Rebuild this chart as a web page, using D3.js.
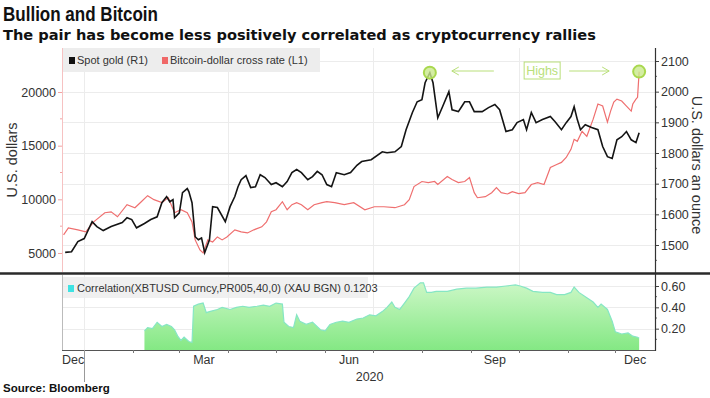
<!DOCTYPE html>
<meta charset="utf-8">
<style>
body { margin: 0; background: #fff; }
text { font-family: "Liberation Sans", Arial, sans-serif; fill: #333; }
.title { font: bold 20px "Liberation Sans", sans-serif; fill: #111; }
.subtitle { font: bold 14.6px "DejaVu Sans", sans-serif; fill: #111; }
.source { font: bold 11.5px "Liberation Sans", sans-serif; fill: #111; }
.tick text { font-size: 12.5px; fill: #333; }
.axis-title { font-size: 14.5px; fill: #333; }
.legend text { font-size: 11px; fill: #333; }
.grid line { stroke: #ececec; stroke-width: 1; }
</style>
<svg width="710" height="398"></svg>
<script src="https://d3js.org/d3.v7.min.js"></script>
<script>

// spot gold, USD per ounce (right axis)
var gold = [
  ["2019-12-20", 1476], ["2019-12-24", 1478], ["2019-12-28", 1511], ["2020-01-01", 1521],
  ["2020-01-06", 1576], ["2020-01-09", 1560], ["2020-01-13", 1547], ["2020-01-18", 1560],
  ["2020-01-25", 1573], ["2020-01-28", 1589], ["2020-01-31", 1583], ["2020-02-03", 1556],
  ["2020-02-08", 1570], ["2020-02-12", 1583], ["2020-02-16", 1592], ["2020-02-19", 1638],
  ["2020-02-22", 1658], ["2020-02-24", 1641], ["2020-02-26", 1648], ["2020-02-27", 1589],
  ["2020-03-01", 1605], ["2020-03-03", 1671], ["2020-03-06", 1684], ["2020-03-07", 1674],
  ["2020-03-09", 1638], ["2020-03-11", 1527], ["2020-03-13", 1517], ["2020-03-15", 1523],
  ["2020-03-17", 1475], ["2020-03-20", 1517], ["2020-03-22", 1625], ["2020-03-25", 1622],
  ["2020-03-30", 1576], ["2020-04-02", 1625], ["2020-04-05", 1658], ["2020-04-07", 1690],
  ["2020-04-09", 1713], ["2020-04-12", 1726], ["2020-04-15", 1687], ["2020-04-18", 1690],
  ["2020-04-21", 1729], ["2020-04-24", 1720], ["2020-04-28", 1697], ["2020-05-01", 1703],
  ["2020-05-05", 1690], ["2020-05-08", 1707], ["2020-05-11", 1736], ["2020-05-14", 1746],
  ["2020-05-17", 1736], ["2020-05-21", 1713], ["2020-05-24", 1723], ["2020-05-27", 1740],
  ["2020-05-30", 1729], ["2020-06-02", 1697], ["2020-06-05", 1690], ["2020-06-08", 1736],
  ["2020-06-13", 1729], ["2020-06-17", 1736], ["2020-06-21", 1760], ["2020-06-24", 1772],
  ["2020-06-30", 1778], ["2020-07-07", 1804], ["2020-07-10", 1801], ["2020-07-15", 1804],
  ["2020-07-19", 1821], ["2020-07-22", 1876], ["2020-07-26", 1932], ["2020-07-29", 1967],
  ["2020-08-01", 1974], ["2020-08-03", 2029], ["2020-08-06", 2062], ["2020-08-08", 2029],
  ["2020-08-11", 1915], ["2020-08-14", 1951], ["2020-08-18", 2000], ["2020-08-20", 1941],
  ["2020-08-24", 1935], ["2020-08-26", 1951], ["2020-08-28", 1967], ["2020-08-31", 1967],
  ["2020-09-03", 1935], ["2020-09-08", 1935], ["2020-09-12", 1948], ["2020-09-16", 1958],
  ["2020-09-19", 1941], ["2020-09-23", 1870], ["2020-09-27", 1876], ["2020-09-30", 1899],
  ["2020-10-04", 1909], ["2020-10-06", 1876], ["2020-10-09", 1932], ["2020-10-12", 1899],
  ["2020-10-16", 1909], ["2020-10-21", 1919], ["2020-10-24", 1902], ["2020-10-28", 1876],
  ["2020-10-31", 1899], ["2020-11-03", 1919], ["2020-11-05", 1951], ["2020-11-07", 1909],
  ["2020-11-09", 1876], ["2020-11-12", 1892], ["2020-11-16", 1883], ["2020-11-20", 1876],
  ["2020-11-23", 1821], ["2020-11-26", 1788], ["2020-11-29", 1782], ["2020-12-02", 1843],
  ["2020-12-05", 1853], ["2020-12-08", 1870], ["2020-12-11", 1843], ["2020-12-14", 1834],
  ["2020-12-16", 1866]
];

// bitcoin in USD (left axis)
var bitcoin = [
  ["2019-12-19", 6690], ["2019-12-22", 7340], ["2019-12-28", 7160], ["2020-01-02", 6970],
  ["2020-01-07", 7900], ["2020-01-14", 8750], ["2020-01-18", 8840], ["2020-01-22", 8375],
  ["2020-01-28", 9500], ["2020-02-02", 9220], ["2020-02-06", 9780], ["2020-02-10", 10340],
  ["2020-02-14", 9970], ["2020-02-19", 9690], ["2020-02-23", 10150], ["2020-02-27", 8750],
  ["2020-03-02", 9030], ["2020-03-06", 8750], ["2020-03-09", 7900], ["2020-03-11", 6220],
  ["2020-03-14", 5280], ["2020-03-16", 5000], ["2020-03-19", 6220], ["2020-03-22", 6030],
  ["2020-03-25", 6500], ["2020-03-28", 6220], ["2020-03-31", 6500], ["2020-04-05", 7160],
  ["2020-04-09", 6970], ["2020-04-13", 6870], ["2020-04-17", 7160], ["2020-04-22", 7440],
  ["2020-04-25", 7900], ["2020-04-28", 8840], ["2020-05-01", 9030], ["2020-05-05", 9780],
  ["2020-05-08", 9030], ["2020-05-11", 9500], ["2020-05-14", 9690], ["2020-05-17", 9500],
  ["2020-05-21", 9030], ["2020-05-25", 9500], ["2020-05-30", 9690], ["2020-06-02", 9780],
  ["2020-06-07", 9690], ["2020-06-13", 9500], ["2020-06-19", 9690], ["2020-06-26", 9030],
  ["2020-07-02", 9310], ["2020-07-08", 9310], ["2020-07-15", 9220], ["2020-07-21", 9500],
  ["2020-07-24", 9970], ["2020-07-27", 11190], ["2020-08-01", 11660], ["2020-08-05", 11560],
  ["2020-08-09", 11660], ["2020-08-11", 11380], ["2020-08-17", 12130], ["2020-08-20", 11840],
  ["2020-08-24", 11560], ["2020-08-28", 11660], ["2020-08-31", 12030], ["2020-09-03", 10620],
  ["2020-09-05", 10150], ["2020-09-10", 10250], ["2020-09-14", 10620], ["2020-09-17", 11090],
  ["2020-09-20", 10620], ["2020-09-24", 10500], ["2020-09-27", 10720], ["2020-10-01", 10530],
  ["2020-10-05", 10620], ["2020-10-09", 11380], ["2020-10-13", 11560], ["2020-10-17", 11380],
  ["2020-10-21", 12970], ["2020-10-25", 13250], ["2020-10-28", 13440], ["2020-10-31", 13900],
  ["2020-11-03", 14660], ["2020-11-05", 15590], ["2020-11-07", 15400], ["2020-11-10", 16340],
  ["2020-11-13", 15870], ["2020-11-17", 17470], ["2020-11-20", 18880], ["2020-11-23", 18690],
  ["2020-11-26", 17190], ["2020-11-28", 18220], ["2020-11-30", 19060], ["2020-12-02", 19340],
  ["2020-12-05", 19160], ["2020-12-08", 18690], ["2020-12-11", 18220], ["2020-12-12", 18880],
  ["2020-12-14", 19340], ["2020-12-15", 19500], ["2020-12-16", 21900]
];

// 40-day correlation XBTUSD vs XAU
var correlation = [
  ["2020-02-08", 0.18], ["2020-02-10", 0.21], ["2020-02-13", 0.20], ["2020-02-16", 0.26],
  ["2020-02-19", 0.22], ["2020-02-22", 0.24], ["2020-02-25", 0.22], ["2020-02-27", 0.19],
  ["2020-02-29", 0.13], ["2020-03-02", 0.09], ["2020-03-04", 0.12], ["2020-03-07", 0.08],
  ["2020-03-09", 0.07], ["2020-03-10", 0.41], ["2020-03-13", 0.43], ["2020-03-16", 0.44],
  ["2020-03-18", 0.35], ["2020-03-20", 0.36], ["2020-03-25", 0.38], ["2020-03-28", 0.40],
  ["2020-04-02", 0.38], ["2020-04-06", 0.40], ["2020-04-10", 0.41], ["2020-04-14", 0.40],
  ["2020-04-19", 0.41], ["2020-04-23", 0.42], ["2020-04-27", 0.41], ["2020-05-01", 0.44],
  ["2020-05-05", 0.43], ["2020-05-06", 0.26], ["2020-05-09", 0.22], ["2020-05-12", 0.21],
  ["2020-05-14", 0.33], ["2020-05-16", 0.27], ["2020-05-20", 0.24], ["2020-05-24", 0.26],
  ["2020-05-29", 0.19], ["2020-06-01", 0.18], ["2020-06-04", 0.24], ["2020-06-08", 0.26],
  ["2020-06-12", 0.27], ["2020-06-16", 0.26], ["2020-06-21", 0.29], ["2020-06-25", 0.30],
  ["2020-06-29", 0.33], ["2020-07-03", 0.32], ["2020-07-07", 0.36], ["2020-07-10", 0.40],
  ["2020-07-13", 0.45], ["2020-07-15", 0.40], ["2020-07-18", 0.38], ["2020-07-21", 0.44],
  ["2020-07-24", 0.50], ["2020-07-27", 0.58], ["2020-07-31", 0.63], ["2020-08-02", 0.63],
  ["2020-08-04", 0.54], ["2020-08-07", 0.54], ["2020-08-10", 0.55], ["2020-08-17", 0.55],
  ["2020-08-23", 0.57], ["2020-08-29", 0.58], ["2020-09-04", 0.58], ["2020-09-11", 0.59],
  ["2020-09-17", 0.59], ["2020-09-23", 0.60], ["2020-09-29", 0.61], ["2020-10-02", 0.60],
  ["2020-10-06", 0.58], ["2020-10-10", 0.55], ["2020-10-16", 0.54], ["2020-10-21", 0.54],
  ["2020-10-25", 0.52], ["2020-10-30", 0.52], ["2020-11-03", 0.54], ["2020-11-05", 0.59],
  ["2020-11-08", 0.54], ["2020-11-13", 0.49], ["2020-11-17", 0.45], ["2020-11-20", 0.40],
  ["2020-11-22", 0.43], ["2020-11-26", 0.38], ["2020-11-29", 0.27], ["2020-12-01", 0.17],
  ["2020-12-05", 0.15], ["2020-12-09", 0.16], ["2020-12-12", 0.13], ["2020-12-15", 0.12],
  ["2020-12-16", 0.11]
];

var goldTicks = [1500, 1600, 1700, 1800, 1900, 2000, 2100];
var btcTicks = [5000, 10000, 15000, 20000];
var corrTicks = [0.2, 0.4, 0.6];
var monthLabels = [["2019-12", "Dec"], ["2020-03", "Mar"], ["2020-06", "Jun"], ["2020-09", "Sep"], ["2020-12", "Dec"]];
var yearLabel = "2020";
var seriesNames = ["Spot gold (R1)", "Bitcoin-dollar cross rate (L1)"];
var corrName = "Correlation(XBTUSD Curncy,PR005,40,0) (XAU BGN) 0.1203";

var parse = d3.timeParse("%Y-%m-%d");
[gold, bitcoin, correlation].forEach(function(s) {
  s.forEach(function(d) { d.date = parse(d[0]); d.value = d[1]; });
});

var svg = d3.select("svg");

var left = 62, right = 655,
    top1 = 48, bottom1 = 272,
    top2 = 275, bottom2 = 350;

var x = d3.scaleTime()
    .domain([new Date(2019, 11, 18), new Date(2020, 11, 26)])
    .range([left, right]);

var yGold = d3.scaleLinear().domain([1500, 2100]).range([245, 61]);
var yBtc = d3.scaleLinear().domain([5000, 20000]).range([253, 92]);
var yCorr = d3.scaleLinear().domain([0, 0.6]).range([bottom2, 286]);

var quarters = [new Date(2020, 0, 1), new Date(2020, 3, 1), new Date(2020, 6, 1), new Date(2020, 9, 1)];

// titles (narrow face is not installed, so squeeze the bold one)
svg.append("text").attr("class", "title").attr("x", 3).attr("y", 21)
    .attr("textLength", 155).attr("lengthAdjust", "spacingAndGlyphs").text("Bullion and Bitcoin");
svg.append("text").attr("class", "subtitle").attr("x", 3).attr("y", 40)
    .text("The pair has become less positively correlated as cryptocurrency rallies");

// ---- top panel grid ----
var grid = svg.append("g").attr("class", "grid");
grid.selectAll(".h1").data(goldTicks).enter().append("line")
    .attr("x1", left).attr("x2", right)
    .attr("y1", function(d) { return Math.round(yGold(d)) + 0.5; })
    .attr("y2", function(d) { return Math.round(yGold(d)) + 0.5; });
grid.selectAll(".v1").data(quarters).enter().append("line")
    .attr("x1", function(d) { return Math.round(x(d)) + 0.5; })
    .attr("x2", function(d) { return Math.round(x(d)) + 0.5; })
    .attr("y1", top1).attr("y2", bottom1);

// bottom panel grid
grid.selectAll(".h2").data(corrTicks).enter().append("line")
    .attr("x1", left).attr("x2", right)
    .attr("y1", function(d) { return Math.round(yCorr(d)) + 0.5; })
    .attr("y2", function(d) { return Math.round(yCorr(d)) + 0.5; });
grid.selectAll(".v2").data(quarters).enter().append("line")
    .attr("x1", function(d) { return Math.round(x(d)) + 0.5; })
    .attr("x2", function(d) { return Math.round(x(d)) + 0.5; })
    .attr("y1", top2).attr("y2", bottom2);

// legend (top)
var leg = svg.append("g").attr("class", "legend");
leg.append("rect").attr("x", 63).attr("y", top1).attr("width", 257).attr("height", 24).attr("fill", "#ededed");
leg.append("rect").attr("x", 69).attr("y", 57).attr("width", 6).attr("height", 7).attr("fill", "#111");
leg.append("text").attr("x", 77).attr("y", 64).text(seriesNames[0]);
leg.append("rect").attr("x", 162).attr("y", 57).attr("width", 6).attr("height", 7).attr("fill", "#f06868");
leg.append("text").attr("x", 170).attr("y", 64).text(seriesNames[1]);

// ---- lines ----
svg.append("path").datum(bitcoin)
    .attr("fill", "none").attr("stroke", "#ef6f6f").attr("stroke-width", 1.2)
    .attr("d", d3.line().x(function(d) { return x(d.date); }).y(function(d) { return yBtc(d.value); }));

svg.append("path").datum(gold)
    .attr("fill", "none").attr("stroke", "#141414").attr("stroke-width", 1.6)
    .attr("d", d3.line().x(function(d) { return x(d.date); }).y(function(d) { return yGold(d.value); }));

// highs annotation
var goldHigh = d3.greatest(gold, function(d) { return d.value; });
var btcHigh = d3.greatest(bitcoin, function(d) { return d.value; });
var hi = [[x(goldHigh.date), yGold(goldHigh.value)], [x(btcHigh.date), yBtc(btcHigh.value)]];
var green = "#a9d84e";
svg.selectAll(".high").data(hi).enter().append("circle")
    .attr("cx", function(d) { return d[0]; }).attr("cy", function(d) { return d[1]; })
    .attr("r", 6).attr("fill", "#c9e98c").attr("fill-opacity", 0.8)
    .attr("stroke", green).attr("stroke-width", 2);

var ay = 71;
var ann = svg.append("g").attr("stroke", "#b9df7a").attr("fill", "none").attr("stroke-width", 1);
ann.append("path").attr("d", "M" + (hi[0][0] + 64) + "," + ay + "H" + (hi[0][0] + 22));
ann.append("path").attr("d", "M" + (hi[0][0] + 29) + "," + (ay - 4) + "L" + (hi[0][0] + 22) + "," + ay + "L" + (hi[0][0] + 29) + "," + (ay + 4));
ann.append("path").attr("d", "M" + (hi[1][0] - 70) + "," + ay + "H" + (hi[1][0] - 30));
ann.append("path").attr("d", "M" + (hi[1][0] - 37) + "," + (ay - 4) + "L" + (hi[1][0] - 30) + "," + ay + "L" + (hi[1][0] - 37) + "," + (ay + 4));
ann.append("rect").attr("x", hi[1][0] - 115).attr("y", 62).attr("width", 36).attr("height", 17);
svg.append("text").attr("x", hi[1][0] - 97).attr("y", 75).attr("text-anchor", "middle")
    .style("font-size", "12.5px").style("fill", "#b9df7a").text("Highs");

// ---- bottom panel ----
var grad = svg.append("defs").append("linearGradient").attr("id", "corrFill")
    .attr("x1", 0).attr("x2", 0).attr("y1", 0).attr("y2", 1);
grad.append("stop").attr("offset", "0%").attr("stop-color", "#ccf7c6");
grad.append("stop").attr("offset", "100%").attr("stop-color", "#84e884");

svg.append("path").datum(correlation)
    .attr("fill", "url(#corrFill)")
    .attr("d", d3.area().x(function(d) { return x(d.date); }).y0(bottom2).y1(function(d) { return yCorr(d.value); }));
svg.append("path").datum(correlation)
    .attr("fill", "none").attr("stroke", "#86e6c4").attr("stroke-width", 1.2)
    .attr("d", d3.line().x(function(d) { return x(d.date); }).y(function(d) { return yCorr(d.value); }));

var leg2 = svg.append("g").attr("class", "legend");
leg2.append("rect").attr("x", 63).attr("y", 277).attr("width", 305).attr("height", 21).attr("fill", "#ededed").attr("fill-opacity", 0.85);
leg2.append("rect").attr("x", 68).attr("y", 285).attr("width", 6).attr("height", 7).attr("fill", "#3fe3e3");
leg2.append("text").attr("x", 77).attr("y", 292).text(corrName);

// ---- axes ----
// left (bitcoin)
var axL = svg.append("g").attr("transform", "translate(" + left + ",0)")
    .call(d3.axisLeft(yBtc).tickValues(btcTicks).tickSize(4).tickPadding(2).tickFormat(d3.format("d")));
axL.select(".domain").remove();
axL.selectAll(".tick line").attr("stroke", "#f2a3a3");
svg.append("g").selectAll("line").data([7500, 12500, 17500]).enter().append("line")
    .attr("x1", left - 2).attr("x2", left)
    .attr("y1", function(d) { return yBtc(d); }).attr("y2", function(d) { return yBtc(d); })
    .attr("stroke", "#f2a3a3");
svg.append("line").attr("x1", left + 0.5).attr("x2", left + 0.5).attr("y1", top1).attr("y2", bottom1)
    .attr("stroke", "#f6c2c2");

// right (gold)
var axR = svg.append("g").attr("transform", "translate(" + right + ",0)")
    .call(d3.axisRight(yGold).tickValues(goldTicks).tickSize(4).tickPadding(2).tickFormat(d3.format("d")));
axR.select(".domain").remove();
axR.selectAll(".tick line").attr("stroke", "#444");
svg.append("g").selectAll("line").data([1450, 1550, 1650, 1750, 1850, 1950, 2050]).enter().append("line")
    .attr("x1", right).attr("x2", right + 2)
    .attr("y1", function(d) { return yGold(d); }).attr("y2", function(d) { return yGold(d); })
    .attr("stroke", "#666");

// right (correlation)
var axC = svg.append("g").attr("transform", "translate(" + right + ",0)")
    .call(d3.axisRight(yCorr).tickValues(corrTicks).tickSize(4).tickPadding(2).tickFormat(d3.format(".2f")));
axC.select(".domain").remove();
axC.selectAll(".tick line").attr("stroke", "#444");
svg.append("g").selectAll("line").data([0.1, 0.3, 0.5]).enter().append("line")
    .attr("x1", right).attr("x2", right + 2)
    .attr("y1", function(d) { return yCorr(d); }).attr("y2", function(d) { return yCorr(d); })
    .attr("stroke", "#666");

svg.append("line").attr("x1", right + 0.5).attr("x2", right + 0.5).attr("y1", top1).attr("y2", bottom2 + 1)
    .attr("stroke", "#333").attr("stroke-width", 1.2);

// bottom panel frame
svg.append("line").attr("x1", left + 0.5).attr("x2", left + 0.5).attr("y1", top2).attr("y2", bottom2)
    .attr("stroke", "#bbb");
svg.append("line").attr("x1", left).attr("x2", right).attr("y1", bottom2 + 0.5).attr("y2", bottom2 + 0.5)
    .attr("stroke", "#555");

// panel separator
svg.append("line").attr("x1", 0).attr("x2", 710).attr("y1", 273.5).attr("y2", 273.5)
    .attr("stroke", "#2a2a2a").attr("stroke-width", 2.5);

// x axis: month ticks, labels centred in the visible part of each month
var months = d3.timeMonth.range(new Date(2020, 0, 1), x.domain()[1]);
svg.append("g").selectAll("line").data(months).enter().append("line")
    .attr("x1", function(d) { return Math.round(x(d)) + 0.5; })
    .attr("x2", function(d) { return Math.round(x(d)) + 0.5; })
    .attr("y1", bottom2).attr("y2", bottom2 + 3)
    .attr("stroke", "#777");
svg.append("line").attr("x1", Math.round(x(new Date(2020, 0, 1))) + 0.5).attr("x2", Math.round(x(new Date(2020, 0, 1))) + 0.5)
    .attr("y1", bottom2).attr("y2", 382).attr("stroke", "#999");

var dom = x.domain();
svg.append("g").selectAll("text").data(monthLabels).enter().append("text")
    .attr("x", function(d) {
      var s = d3.timeParse("%Y-%m")(d[0]), e = d3.timeMonth.offset(s, 1);
      return (x(s < dom[0] ? dom[0] : s) + x(e > dom[1] ? dom[1] : e)) / 2;
    })
    .attr("y", 364).attr("text-anchor", "middle").style("font-size", "12.5px")
    .text(function(d) { return d[1]; });
svg.append("text")
    .attr("x", (x(new Date(2020, 0, 1)) + right) / 2).attr("y", 381)
    .attr("text-anchor", "middle").style("font-size", "12.5px").text(yearLabel);

// axis titles
svg.append("text").attr("class", "axis-title").attr("text-anchor", "middle")
    .attr("transform", "translate(17,160) rotate(-90)").text("U.S. dollars");
svg.append("text").attr("class", "axis-title").attr("text-anchor", "middle")
    .attr("transform", "translate(692,165) rotate(90)").text("U.S. dollars an ounce");

svg.append("text").attr("class", "source").attr("x", 3).attr("y", 392).text("Source: Bloomberg");

</script>
